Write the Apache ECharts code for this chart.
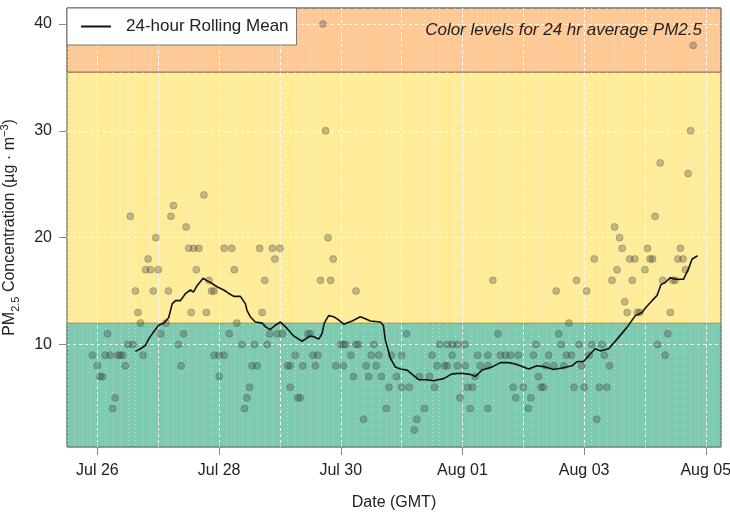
<!DOCTYPE html>
<html lang="en">
<head>
<meta charset="UTF-8">
<title>PM2.5</title>
<script src="https://cdn.jsdelivr.net/npm/echarts@6/dist/echarts.min.js"></script>
</head>
<body style="margin:0">
<div id="main" style="width:730px;height:516px;"></div>
<script type="text/javascript">
// hours since Jul 26 00:00 GMT
var tickHours = [0, 48, 96, 144, 192, 240];
var tickLabels = ['Jul 26', 'Jul 28', 'Jul 30', 'Aug 01', 'Aug 03', 'Aug 05'];
var dayHours = [0, 24, 48, 72, 96, 120, 144, 168, 192, 216, 240];
var yTicks = [10, 20, 30, 40];

// AQI breaks for 24 hr PM2.5
var aqiBreaks = [12, 35.5];

// hourly readings, grouped by value
var pmLevels = [40, 38, 30, 27, 26, 24, 23, 22, 21, 20, 19, 18, 17, 16, 15, 14, 13, 12, 11, 10, 9, 8, 7, 6, 5, 4, 3, 2];
var pmHoursByLevel = [
    [89],
    [235],
    [90, 234],
    [222],
    [233],
    [42],
    [30],
    [13, 29, 220],
    [35, 204],
    [23, 91, 206],
    [36, 38, 40, 50, 53, 64, 69, 72, 207, 217, 230],
    [20, 70, 93, 196, 210, 212, 218, 219, 229, 231],
    [19, 21, 24, 39, 54, 205, 216, 232],
    [44, 66, 88, 92, 156, 189, 203, 211, 223, 227, 228],
    [15, 22, 28, 45, 46, 102, 181, 193],
    [208],
    [16, 37, 43, 65, 209, 213, 214, 226],
    [17, 27, 55, 186],
    [4, 25, 34, 52, 68, 71, 73, 83, 84, 122, 158, 182, 225],
    [12, 14, 32, 57, 62, 67, 96, 97, 98, 102, 103, 109, 135, 138, 140, 142, 145, 173, 183, 190, 195, 199, 221],
    [-2, 3, 5, 8, 9, 10, 18, 46, 48, 50, 78, 85, 87, 100, 108, 111, 116, 120, 132, 140, 150, 154, 159, 161, 163, 166, 172, 178, 185, 187, 194, 200, 224],
    [0, 11, 33, 61, 63, 75, 76, 81, 86, 94, 97, 106, 110, 134, 137, 138, 142, 145, 151, 154, 177, 180, 184, 191, 202],
    [1, 2, 48, 101, 107, 112, 118, 127, 131, 149, 174],
    [60, 76, 115, 120, 123, 133, 146, 148, 164, 168, 175, 176, 188, 192, 198, 201],
    [7, 59, 79, 80, 143, 165, 171],
    [6, 58, 114, 129, 147, 154, 170],
    [105, 126, 197],
    [125]
];

// 24-hour rolling mean
var meanHours = [15.0, 17.0, 18.9, 20.2, 22.2, 24.2, 26.2, 28.1, 29.5, 30.8,
    32.7, 34.7, 36.7, 37.9, 39.3, 41.7, 43.0, 44.6, 47.2, 49.8,
    51.7, 53.8, 56.4, 58.4, 59.0, 60.3, 62.3, 65.0, 66.6, 68.2,
    70.2, 72.2, 74.8, 77.4, 80.7, 84.0, 85.6, 87.3, 88.6, 89.5,
    91.2, 93.2, 95.1, 97.2, 100.5, 103.7, 105.7, 107.7, 111.6, 112.8,
    113.6, 115.6, 117.5, 119.5, 122.2, 124.2, 126.7, 129.4, 132.6, 136.6,
    139.9, 143.2, 147.1, 149.1, 151.7, 155.7, 159.0, 162.2, 164.5, 166.8,
    170.1, 173.4, 176.7, 180.0, 183.3, 187.2, 189.2, 191.8, 194.4, 196.4,
    198.4, 201.7, 205.0, 208.9, 212.2, 214.8, 216.5, 218.8, 220.8, 222.3,
    224.0, 226.0, 227.9, 231.2, 233.2, 234.6, 236.8];
var meanValues = [9.35, 9.6, 9.9, 10.5, 11.2, 11.8, 12.0, 12.5, 13.8, 14.1,
    14.1, 14.75, 15.1, 14.9, 15.5, 16.2, 16.0, 15.8, 15.4, 15.1,
    14.8, 14.5, 14.5, 13.8, 13.2, 12.6, 12.1, 12.0, 11.6, 11.4,
    11.8, 12.1, 11.5, 10.8, 10.3, 10.8, 10.7, 10.5, 11.0, 12.0,
    12.7, 12.6, 12.3, 11.9, 12.2, 12.6, 12.4, 12.2, 12.1, 11.8,
    10.4, 8.7, 7.9, 7.7, 7.6, 7.2, 6.7, 6.7, 6.6, 6.8,
    7.25, 7.3, 7.2, 7.0, 7.6, 7.9, 8.3, 8.3, 8.2, 8.0,
    7.7, 8.0, 7.9, 7.65, 7.8, 8.0, 8.4, 8.4, 9.1, 9.6,
    9.4, 9.6, 10.5, 11.6, 12.7, 13.0, 13.5, 14.1, 14.6, 15.6,
    15.8, 16.25, 16.1, 16.1, 17.1, 18.0, 18.3];

var pmData = [];
pmLevels.forEach(function (v, i) {
    pmHoursByLevel[i].forEach(function (h) { pmData.push([h, v]); });
});
var meanData = meanHours.map(function (h, i) { return [h, meanValues[i]]; });

var font = '"Liberation Sans", Arial, sans-serif';
var xMin = -12, xMax = 246;
var yMin = 0.4, yMax = 41.5;

function band(lo, hi, fill, edge) {
    var st = { color: fill, borderColor: edge, borderWidth: 1 };
    return [{ yAxis: lo, itemStyle: st }, { yAxis: hi, itemStyle: st }];
}

var myChart = echarts.init(document.getElementById('main'));
myChart.setOption({
    animation: false,
    backgroundColor: '#fff',
    textStyle: { fontFamily: font },
    grid: { left: 67, right: 9, top: 8, bottom: 69, outerBoundsMode: 'none', containLabel: false,
        show: true, borderColor: '#777', borderWidth: 1, backgroundColor: 'transparent', z: 3 },
    legend: {
        left: 67, top: 8,
        data: [{ name: '24-hour Rolling Mean', icon: 'rect' }],
        itemWidth: 30, itemHeight: 2,
        padding: [10, 8, 10, 14],
        backgroundColor: '#fff', borderColor: '#777', borderWidth: 1, borderRadius: 0,
        textStyle: { fontSize: 17, color: '#222', padding: [0, 0, 0, 10] },
        z: 10
    },
    graphic: [{
        type: 'text', right: 28, top: 22, z: 10,
        style: { text: 'Color levels for 24 hr average PM2.5', font: 'italic 17px ' + font, fill: '#222' }
    }],
    xAxis: [{
        type: 'value', min: xMin, max: xMax, z: 3,
        axisLine: { show: false, onZero: false },
        axisTick: { customValues: tickHours, length: 8, lineStyle: { color: '#888' } },
        axisLabel: {
            customValues: tickHours, margin: 16, fontSize: 16, color: '#222',
            formatter: function (v) { return tickLabels[tickHours.indexOf(v)]; }
        },
        splitLine: { show: false },
        name: 'Date (GMT)', nameLocation: 'middle', nameGap: 48,
        nameTextStyle: { fontSize: 16, color: '#222' }
    }, {
        type: 'value', min: xMin, max: xMax, z: 3,
        axisLine: { show: false, onZero: false }, axisLabel: { show: false },
        axisTick: { show: false, customValues: dayHours },
        splitLine: { show: true, lineStyle: { color: '#fff', type: [3, 3], width: 1, opacity: 0.9 } }
    }, {
        type: 'value', min: xMin, max: xMax, interval: 3, z: 3,
        axisLine: { show: false, onZero: false }, axisLabel: { show: false }, axisTick: { show: false },
        splitLine: { show: true, lineStyle: { color: '#fff', type: [1, 3], width: 1, opacity: 0.45 } }
    }],
    yAxis: {
        type: 'value', min: yMin, max: yMax, z: 3,
        axisLine: { show: false, onZero: false },
        axisTick: { customValues: yTicks, length: 8, lineStyle: { color: '#888' } },
        axisLabel: { customValues: yTicks, margin: 15, fontSize: 16, color: '#222' },
        splitLine: { show: true, lineStyle: { color: '#fff', type: [3, 3], width: 1, opacity: 0.9 } },
        name: '{a|PM}{s|2.5}{a| Concentration (µg · m}{p|−3}{a|)}',
        nameLocation: 'middle', nameGap: 46,
        nameTextStyle: {
            rich: {
                a: { fontSize: 16, color: '#222', fontFamily: font, lineHeight: 22 },
                s: { fontSize: 11, color: '#222', fontFamily: font, verticalAlign: 'bottom', lineHeight: 22 },
                p: { fontSize: 11, color: '#222', fontFamily: font, verticalAlign: 'top', lineHeight: 22 }
            }
        }
    },
    series: [{
        name: 'bands', type: 'line', data: [], z: 0, silent: true,
        markArea: {
            silent: true, z: 0,
            data: [
                band(yMin, aqiBreaks[0], '#7ecbb1', '#4f9a7e'),
                band(aqiBreaks[0], aqiBreaks[1], '#ffec99', '#b5a25a'),
                band(aqiBreaks[1], yMax, '#ffc996', '#8a6244')
            ]
        }
    }, {
        name: 'PM2.5', type: 'scatter', data: pmData, z: 4,
        symbol: 'circle', symbolSize: 7,
        itemStyle: { color: 'rgba(60,60,60,0.38)', borderColor: 'rgba(60,60,60,0.35)', borderWidth: 1 }
    }, {
        name: '24-hour Rolling Mean', type: 'line', data: meanData, z: 5,
        showSymbol: false, symbol: 'none',
        itemStyle: { color: '#111' },
        lineStyle: { color: '#111', width: 1.6 }
    }]
});
</script>
</body>
</html>
